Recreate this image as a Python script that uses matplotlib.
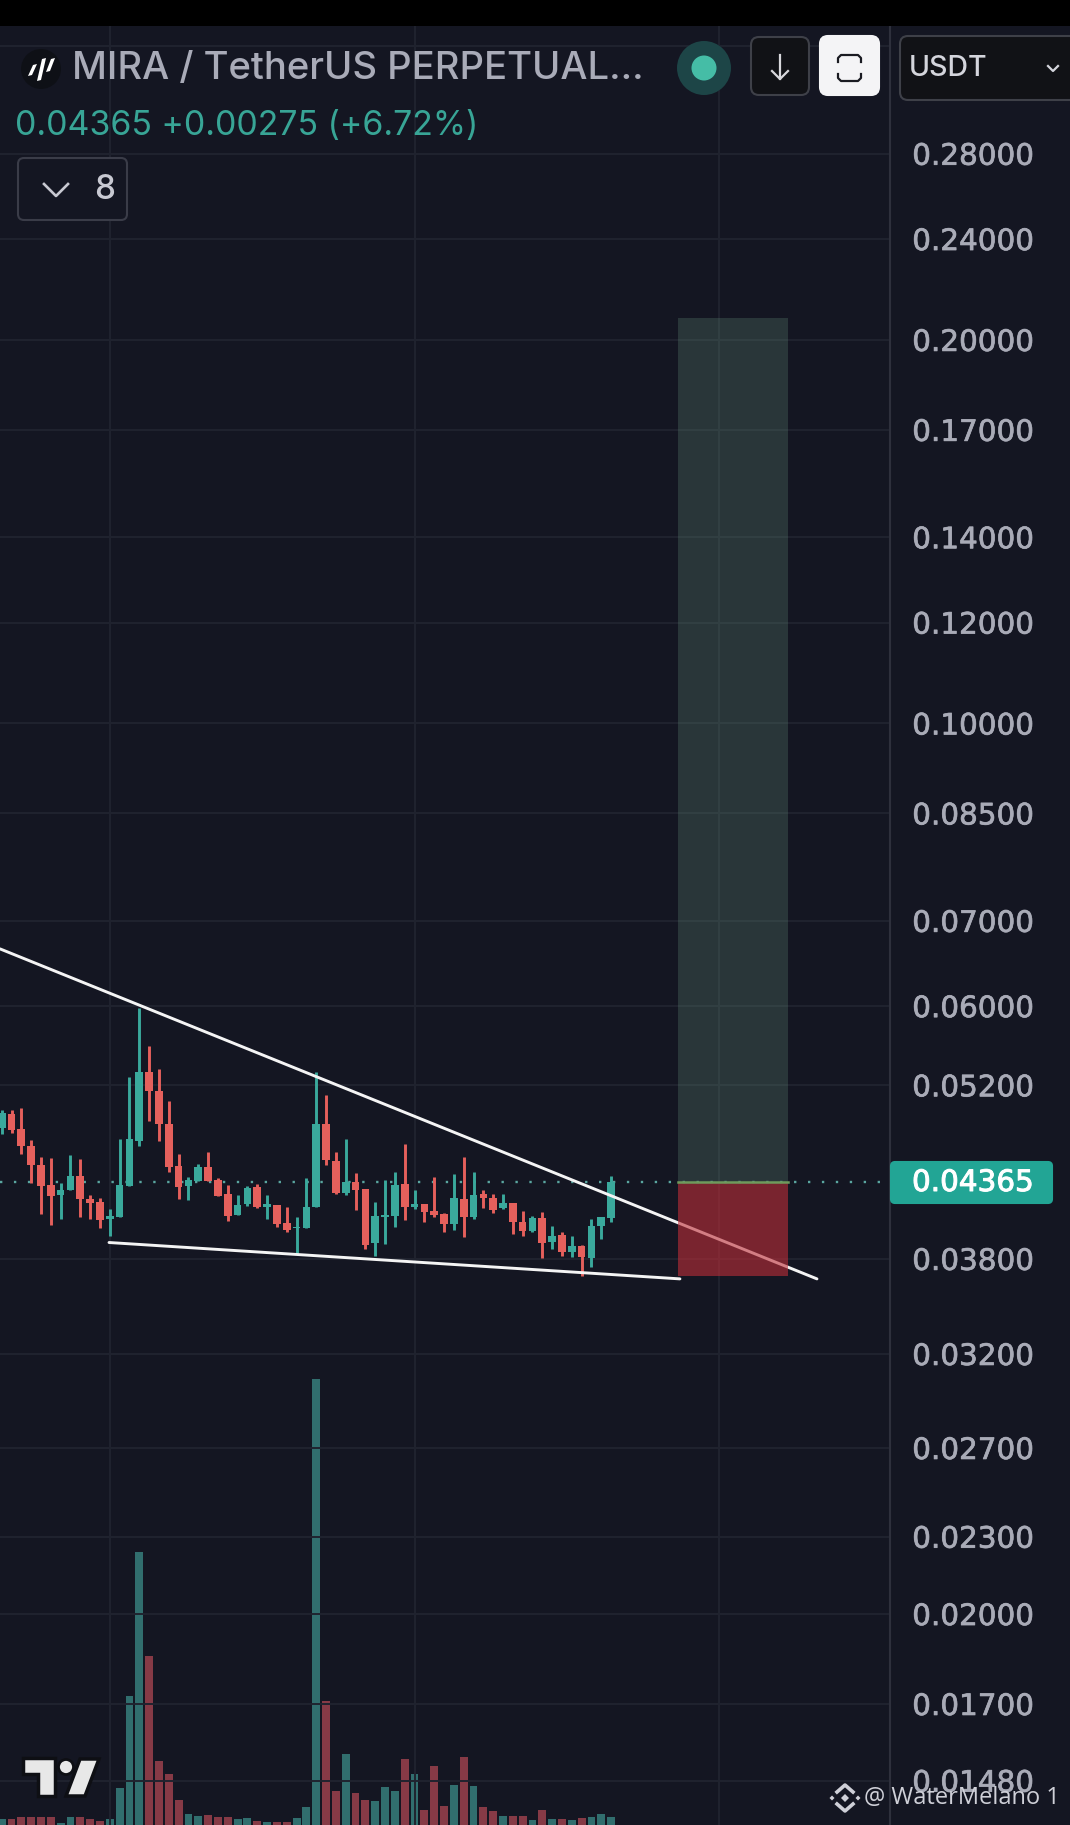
import matplotlib
matplotlib.use("Agg")
from matplotlib import pyplot as plt
from matplotlib import patheffects
from matplotlib.patches import Rectangle, FancyBboxPatch, Circle, Polygon

# candles, oldest first
opens = [0.04818, 0.04939, 0.04806, 0.04664, 0.04502, 0.04339, 0.04263, 0.04300, 0.04410, 0.04232, 0.04210,
         0.04083, 0.04102, 0.04336, 0.04705, 0.05328, 0.05151, 0.04849, 0.04491, 0.04331, 0.04378, 0.04485,
         0.04383, 0.04271, 0.04115, 0.04197, 0.04326, 0.04177, 0.04185, 0.04058, 0.04017, 0.04017, 0.04177,
         0.04849, 0.04537, 0.04284, 0.04365, 0.04310, 0.03910, 0.04100, 0.04107, 0.04352, 0.04170, 0.04195,
         0.04145, 0.04122, 0.04046, 0.04238, 0.04095, 0.04273, 0.04240, 0.04165, 0.04202, 0.04063, 0.03993,
         0.04090, 0.03915, 0.03964, 0.03847, 0.03887, 0.03805, 0.04033, 0.04090]
closes = [0.04945, 0.04798, 0.04664, 0.04499, 0.04336, 0.04260, 0.04305, 0.04410, 0.04235, 0.04207, 0.04073,
          0.04107, 0.04339, 0.04717, 0.05328, 0.05151, 0.04846, 0.04483, 0.04326, 0.04383, 0.04485, 0.04378,
          0.04260, 0.04107, 0.04192, 0.04323, 0.04170, 0.04195, 0.04048, 0.04005, 0.04026, 0.04177, 0.04849,
          0.04540, 0.04279, 0.04370, 0.04305, 0.03898, 0.04107, 0.04115, 0.04344, 0.04172, 0.04195, 0.04134,
          0.04112, 0.04046, 0.04240, 0.04097, 0.04268, 0.04240, 0.04152, 0.04202, 0.04060, 0.03993, 0.04090,
          0.03910, 0.03962, 0.03847, 0.03887, 0.03810, 0.04033, 0.04095, 0.04365]
highs = [0.04975, 0.04969, 0.04990, 0.04711, 0.04571, 0.04563, 0.04362, 0.04582, 0.04551, 0.04265, 0.04240,
         0.04162, 0.04723, 0.05278, 0.05978, 0.05587, 0.05354, 0.05059, 0.04591, 0.04404, 0.04510, 0.04611,
         0.04397, 0.04344, 0.04265, 0.04331, 0.04352, 0.04263, 0.04190, 0.04170, 0.04102, 0.04397, 0.05328,
         0.05112, 0.04613, 0.04723, 0.04436, 0.04310, 0.04210, 0.04383, 0.04449, 0.04679, 0.04305, 0.04195,
         0.04404, 0.04132, 0.04428, 0.04566, 0.04449, 0.04305, 0.04273, 0.04273, 0.04207, 0.04147, 0.04107,
         0.04134, 0.04029, 0.03986, 0.03957, 0.03898, 0.04083, 0.04102, 0.04410]
lows = [0.04763, 0.04770, 0.04591, 0.04357, 0.04120, 0.04041, 0.04087, 0.04300, 0.04097, 0.04087, 0.04019,
        0.03962, 0.04102, 0.04331, 0.04664, 0.04873, 0.04705, 0.04449, 0.04232, 0.04227, 0.04376, 0.04376,
        0.04258, 0.04068, 0.04112, 0.04182, 0.04165, 0.04087, 0.04024, 0.03988, 0.03835, 0.04017, 0.04177,
        0.04505, 0.04273, 0.04265, 0.04152, 0.03870, 0.03821, 0.03903, 0.04024, 0.04078, 0.04157, 0.04065,
        0.04102, 0.03986, 0.04005, 0.03952, 0.04083, 0.04165, 0.04132, 0.04157, 0.03977, 0.03962, 0.03988,
        0.03803, 0.03868, 0.03817, 0.03812, 0.03685, 0.03742, 0.03938, 0.04065]
volumes = [17, 18, 23, 25, 25, 23, 7, 25, 23, 17, 13, 17, 111, 387, 820, 508, 193, 154, 75, 33, 28, 30, 23, 25,
           18, 22, 11, 8, 9, 9, 20, 55, 1337, 372, 103, 214, 95, 75, 73, 114, 103, 199, 152, 44, 177, 58, 120,
           204, 118, 53, 41, 28, 28, 26, 14, 46, 18, 17, 16, 20, 23, 32, 23]

price_ticks = [0.34, 0.28, 0.24, 0.20, 0.17, 0.14, 0.12, 0.10, 0.085, 0.07, 0.06, 0.052,
               0.038, 0.032, 0.027, 0.023, 0.02, 0.017, 0.0148]
price_labels = ["", "0.28000", "0.24000", "0.20000", "0.17000", "0.14000", "0.12000", "0.10000", "0.08500",
                "0.07000", "0.06000", "0.05200", "0.03800", "0.03200", "0.02700", "0.02300", "0.02000",
                "0.01700", "0.01480"]
date_ticks = [11, 42, 73]

last_price = 0.04365
target_price = 0.2082
stop_price = 0.03685
box_start, box_end = 68.8, 80.0
upper_x, upper_y = [-0.17, 82.94], [0.06654, 0.03665]
lower_x, lower_y = [10.92, 69.0], [0.03914, 0.03665]

bg = "#141622"
grid = "#20232f"
up = "#3aa99c"
down = "#e5605c"
up_vol = "#316e6e"
down_vol = "#863a46"
label_col = "#a9abb7"

W, H = 1070, 1825
fig = plt.figure(figsize=(W / 100, H / 100), dpi=100, facecolor=bg)
plot_pos = [0, 0, 890 / W, 1799 / H]

# volume sits behind the candles on its own linear scale
ax_vol = fig.add_axes(plot_pos, facecolor="none", zorder=1)
ax_vol.set_xlim(-0.17, 90.37)
ax_vol.set_ylim(0, 5397)
ax_vol.axis("off")
x = list(range(len(opens)))
vol_colors = [up_vol if c >= o else down_vol for o, c in zip(opens, closes)]
ax_vol.bar(x, volumes, width=0.8, color=vol_colors)

ax = fig.add_axes(plot_pos, facecolor="none", zorder=2)
ax.set_yscale("log")
ax.set_xlim(-0.17, 90.37)
ax.set_ylim(0.01366, 0.3527)
ax.yaxis.tick_right()
ax.set_yticks(price_ticks)
ax.set_yticklabels(price_labels)
ax.minorticks_off()
ax.set_xticks(date_ticks)
ax.set_xticklabels([])
ax.tick_params(length=0)
ax.tick_params(axis="y", labelsize=21.2, labelcolor=label_col, pad=16)
for lab in ax.get_yticklabels():
    lab.set_path_effects([patheffects.withStroke(linewidth=0.5, foreground=label_col)])
ax.grid(True, color=grid, linewidth=1.4)
ax.set_axisbelow(True)
for name in ["left", "top", "bottom"]:
    ax.spines[name].set_visible(False)
ax.spines["right"].set_color("#2e303c")
ax.spines["right"].set_linewidth(1.5)

ax.axhline(last_price, color="#5aa6a0", linewidth=1.7, linestyle=(0, (1, 4.9)), zorder=2)

colors = [up if c >= o else down for o, c in zip(opens, closes)]
ax.vlines(x, lows, highs, colors=colors, linewidth=2.1, zorder=3)
bottoms = [min(o, c) for o, c in zip(opens, closes)]
heights = [abs(c - o) for o, c in zip(opens, closes)]
ax.bar(x, heights, bottom=bottoms, width=0.78, color=colors, zorder=3)

ax.plot(upper_x, upper_y, color="#f4f4f4", linewidth=2.1, zorder=4, solid_capstyle="round")
ax.plot(lower_x, lower_y, color="#f4f4f4", linewidth=2.1, zorder=4, solid_capstyle="round")

# long position tool
ax.fill_between([box_start, box_end], last_price, target_price, color="#648e78", alpha=0.27, linewidth=0, zorder=5)
ax.fill_between([box_start, box_end], stop_price, last_price, color="#be2f39", alpha=0.6, linewidth=0, zorder=5)
ax.plot([box_start, box_end], [last_price, last_price], color="#6f9a5c", linewidth=1.8, zorder=6)

# overlay in pixel coordinates for the app chrome
ui = fig.add_axes([0, 0, 1, 1], facecolor="none", zorder=5)
ui.set_xlim(0, W)
ui.set_ylim(H, 0)
ui.axis("off")

ui.add_patch(Rectangle((0, 0), W, 26, color="black", linewidth=0))


def button(x0, y0, x1, y1, face, edge, radius=8):
    ui.add_patch(FancyBboxPatch((x0 + radius, y0 + radius), x1 - x0 - 2 * radius, y1 - y0 - 2 * radius,
                                boxstyle="round,pad=%d" % radius, facecolor=face, edgecolor=edge, linewidth=1.5))


# symbol logo
ui.add_patch(Circle((41, 69), 20, color="#0e1016", linewidth=0))
for dx, top, bottom in [(-9, 65, 76), (0, 59, 81), (9, 59, 72)]:
    ui.add_patch(Polygon([(41 + dx - 4, bottom), (41 + dx + 1, top), (41 + dx + 5, top - 1), (41 + dx, bottom - 1)],
                         color="white", linewidth=0))

ui.text(72, 69, "MIRA / TetherUS PERPETUAL...", family="Inter", fontsize=27.5, color="#a9abb8",
        va="center", ha="left", fontweight="medium")
ui.text(15, 126, "0.04365 +0.00275 (+6.72%)", family="Inter", fontsize=24.4, color="#38a596",
        va="center", ha="left")

# live marker
ui.add_patch(Circle((704, 68), 27, color="#1d4547", linewidth=0))
ui.add_patch(Circle((704, 68), 12.5, color="#45bda6", linewidth=0))

button(751, 37, 809, 95, "#111216", "#3e4048")
ui.plot([780, 780], [55, 79], color="#d8d8dc", linewidth=1.6)
ui.plot([772, 780, 788], [71, 79, 71], color="#d8d8dc", linewidth=1.6)

button(820, 36, 879, 95, "#f4f4f6", "#f4f4f6")
ui.plot([838, 838, 841, 858, 861, 861], [62, 58, 55, 55, 58, 62], color="#1a1b22", linewidth=1.6)
ui.plot([838, 838, 841, 858, 861, 861], [74, 78, 81, 81, 78, 74], color="#1a1b22", linewidth=1.6)

button(900, 36, 1080, 100, "#111216", "#3e4048")
ui.text(909, 68, "USDT", family="Inter", fontsize=20.5, color="#d4d5dc", va="center", ha="left", fontweight="medium")
ui.plot([1048, 1053, 1058], [66, 71, 66], color="#d4d5dc", linewidth=1.6)

button(18, 158, 127, 220, bg, "#3a3c48", radius=6)
ui.plot([44, 56, 68], [184, 196, 184], color="#c8c9d2", linewidth=1.9)
ui.text(105, 190, "8", family="Inter", fontsize=24, color="#c8c9d2", va="center", ha="center", fontweight="medium")

# last price tag
button(891, 1162, 1052, 1203, "#22a595", "#22a595", radius=4)
ui.text(912, 1183, "0.04365", fontsize=21.2, color="white", va="center", ha="left",
        path_effects=[patheffects.withStroke(linewidth=0.7, foreground="white")])

# TradingView logo, dark outline then the mark
tv_t = [(23, 1758), (55, 1758), (55, 1796), (38, 1796), (38, 1774), (23, 1774)]
tv_s = [(80, 1759), (99, 1759), (85, 1796), (66, 1796)]
for poly in [tv_t, tv_s]:
    ui.add_patch(Polygon(poly, facecolor="#e8e8e8", edgecolor="#0e0f14", linewidth=2.5, joinstyle="miter"))
ui.add_patch(Circle((66, 1767), 7.5, facecolor="#e8e8e8", edgecolor="#0e0f14", linewidth=2))

# watermark
mark = "#cfd0d8"
cx, cy = 845, 1798
for dx, dy, r in [(0, 0, 4), (-13, 0, 2.5), (13, 0, 2.5)]:
    ui.add_patch(Polygon([(cx + dx - r, cy + dy), (cx + dx, cy + dy - r), (cx + dx + r, cy + dy), (cx + dx, cy + dy + r)],
                         color=mark, linewidth=0))
ui.plot([cx - 8, cx, cx + 8], [cy - 6, cy - 13, cy - 6], color=mark, linewidth=2.6)
ui.plot([cx - 8, cx, cx + 8], [cy + 6, cy + 13, cy + 6], color=mark, linewidth=2.6)
ui.text(864, 1798, "@ WaterMelano 1", family="Open Sans", fontsize=17, color=mark, va="center", ha="left")

plt.savefig("out.png", dpi=100, facecolor=fig.get_facecolor())
